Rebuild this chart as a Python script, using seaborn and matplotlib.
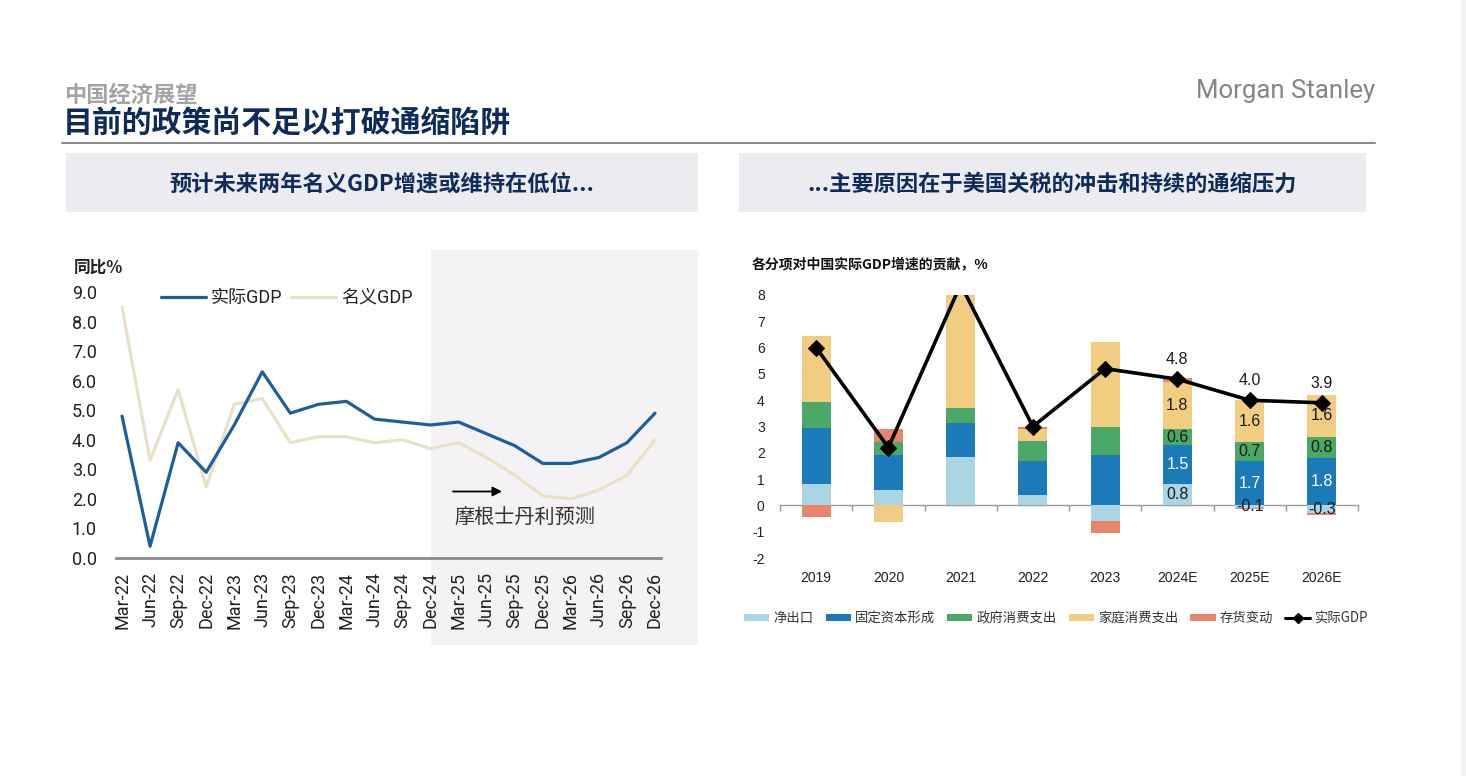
import matplotlib

matplotlib.use("Agg")

import matplotlib.pyplot as plt
import matplotlib.transforms as mtransforms
import numpy as np
import pandas as pd
import seaborn as sns
from matplotlib.lines import Line2D
from matplotlib.patches import Patch, Rectangle

# left panel: quarterly GDP growth, % yoy
quarters = ["Mar-22", "Jun-22", "Sep-22", "Dec-22", "Mar-23", "Jun-23", "Sep-23", "Dec-23",
            "Mar-24", "Jun-24", "Sep-24", "Dec-24", "Mar-25", "Jun-25", "Sep-25", "Dec-25",
            "Mar-26", "Jun-26", "Sep-26", "Dec-26"]
real_gdp_q = [4.8, 0.4, 3.9, 2.9, 4.5, 6.3, 4.9, 5.2, 5.3, 4.7, 4.6, 4.5,
              4.6, 4.2, 3.8, 3.2, 3.2, 3.4, 3.9, 4.9]
nominal_gdp_q = [8.5, 3.3, 5.7, 2.4, 5.2, 5.4, 3.9, 4.1, 4.1, 3.9, 4.0, 3.7,
                 3.9, 3.4, 2.8, 2.1, 2.0, 2.3, 2.8, 4.0]
forecast_start = "Dec-24"

# right panel: contributions to real GDP growth, ppt
years = ["2019", "2020", "2021", "2022", "2023", "2024E", "2025E", "2026E"]
net_exports = [0.8, 0.6, 1.85, 0.4, -0.6, 0.8, -0.1, -0.3]
fixed_capital = [2.15, 1.3, 1.3, 1.3, 1.9, 1.5, 1.7, 1.8]
gov_consumption = [1.0, 0.5, 0.55, 0.75, 1.1, 0.6, 0.7, 0.8]
household_consumption = [2.5, -0.65, 4.7, 0.45, 3.2, 1.8, 1.6, 1.6]
inventory_change = [-0.45, 0.5, 0.0, 0.08, -0.45, 0.15, -0.03, -0.05]
real_gdp_y = [6.0, 2.2, 8.4, 3.0, 5.2, 4.8, 4.0, 3.9]
labelled_years = ["2024E", "2025E", "2026E"]

component_names = ["净出口", "固定资本形成", "政府消费支出", "家庭消费支出", "存货变动"]
component_colors = ["#a9d5e4", "#1b7bb8", "#4ba866", "#f0cd80", "#e8856a"]

NAVY = "#0f2b5b"
CJK = ["Noto Sans CJK SC", "DejaVu Sans"]
ROBOTO_CJK = ["Roboto", "Noto Sans CJK SC", "DejaVu Sans"]
ARIAL_CJK = ["Liberation Sans", "Noto Sans CJK SC", "DejaVu Sans"]

sns.set_theme(style="white")
plt.rcParams["font.family"] = CJK
plt.rcParams["axes.unicode_minus"] = False

W, H = 1466, 776
fig = plt.figure(figsize=(W / 100, H / 100), dpi=100)
fig.patch.set_facecolor("white")


def fx(px):
    return px / W


def fy(py):
    return 1 - py / H


# page header
fig.text(fx(64), fy(95), "中国经济展望", fontsize=16, fontweight="bold", color="#a3a3a3",
         va="center", family=CJK)
fig.text(fx(63), fy(124), "目前的政策尚不足以打破通缩陷阱", fontsize=21.5, fontweight="bold",
         color=NAVY, va="center", family=CJK)
fig.text(fx(1375), fy(91), "Morgan Stanley", fontsize=18.5, color="#858585", ha="right",
         va="center", family=["Roboto", "DejaVu Sans"])
fig.add_artist(Line2D([fx(62), fx(1375)], [fy(143), fy(143)], color="#8c8c8c", lw=1.5))
fig.add_artist(Rectangle((fx(1461), 0), fx(5), 1, color="#f3f3f3", lw=0))

for x0, x1, title in [(66, 698, "预计未来两年名义GDP增速或维持在低位..."),
                      (739, 1366, "...主要原因在于美国关税的冲击和持续的通缩压力")]:
    fig.add_artist(Rectangle((fx(x0), fy(212)), fx(x1 - x0), fy(153) - fy(212),
                             color="#ecebf0", lw=0, zorder=0))
    fig.text(fx((x0 + x1) / 2), fy(184), title, fontsize=16, fontweight="bold", color=NAVY,
             ha="center", va="center", family=CJK)

# ---------------- left panel ----------------
ax1 = fig.add_axes([fx(116.4), fy(558), fx(544.2), fy(292) - fy(558)])
ax1.patch.set_alpha(0)
quarterly = pd.DataFrame({"quarter": quarters, "real": real_gdp_q, "nominal": nominal_gdp_q})
quarterly["pos"] = np.arange(len(quarters))

sns.lineplot(data=quarterly, x="pos", y="real", ax=ax1, color="#1d5e9e", lw=2.3,
             label="实际GDP", zorder=3)
sns.lineplot(data=quarterly, x="pos", y="nominal", ax=ax1, color="#e9e1c5", lw=2.3,
             label="名义GDP", zorder=2)

ax1.set_xlim(-0.2, len(quarters) - 0.8)
ax1.set_ylim(0, 9)
ax1.set_yticks(np.arange(0, 9.5, 1.0))
ax1.set_yticklabels([f"{v:.1f}" for v in np.arange(0, 9.5, 1.0)])
ax1.set_xticks(quarterly["pos"])
ax1.set_xticklabels(quarters, rotation=90)
ax1.tick_params(axis="y", length=0, pad=14, labelsize=13, labelcolor="#222222")
ax1.tick_params(axis="x", length=0, pad=10, labelsize=13, labelcolor="#222222")
for lab in ax1.get_xticklabels() + ax1.get_yticklabels():
    lab.set_family(ROBOTO_CJK)
ax1.set_xlabel("")
ax1.set_ylabel("")
for side in ["top", "right", "left"]:
    ax1.spines[side].set_visible(False)
ax1.spines["bottom"].set_color("#8a8a8a")
ax1.spines["bottom"].set_linewidth(2)
ax1.grid(False)

# forecast shading spans data x and page y
start = quarters.index(forecast_start)
blend = mtransforms.blended_transform_factory(ax1.transData, fig.transFigure)
x_right = (698 - 122) / 28.05
shade = Rectangle((start, fy(645)), x_right - start, fy(250) - fy(645), transform=blend,
                  color="#f5f2f5", lw=0, zorder=0.5, clip_on=False)
ax1.add_patch(shade)

ax1.annotate("", xy=(start + 2.65, 2.25), xytext=(start + 0.7, 2.25),
             arrowprops=dict(arrowstyle="-|>", color="black", lw=1.3, mutation_scale=14))
ax1.text(start + 0.85, 1.38, "摩根士丹利预测", fontsize=14.5, color="#333333", va="center",
         family=CJK, fontweight="light")

leg1 = ax1.legend(loc="center left", bbox_to_anchor=(fx(152), fy(298)),
                  bbox_transform=fig.transFigure, ncol=2, frameon=False, fontsize=13,
                  handlelength=2.5, handletextpad=0.25, columnspacing=0.5, borderpad=0)
for t in leg1.get_texts():
    t.set_family(ROBOTO_CJK)
    t.set_color("#222222")

fig.text(fx(74), fy(268), "同比%", fontsize=12, fontweight="bold", color="#222222",
         va="center", family=CJK)

# ---------------- right panel ----------------
ax2 = fig.add_axes([fx(780), fy(558), fx(578), fy(295) - fy(558)])
ax2.patch.set_alpha(0)
pos = np.arange(len(years))
components = [net_exports, fixed_capital, gov_consumption, household_consumption,
              inventory_change]
pos_base = np.zeros(len(years))
neg_base = np.zeros(len(years))
segments = []
for vals, color in zip(components, component_colors):
    vals = np.array(vals, dtype=float)
    base = np.where(vals >= 0, pos_base, neg_base)
    ax2.bar(pos, vals, bottom=base, width=0.4, color=color, lw=0, zorder=2)
    segments.append(base + vals / 2)
    pos_base = pos_base + np.where(vals >= 0, vals, 0)
    neg_base = neg_base + np.where(vals < 0, vals, 0)

yearly = pd.DataFrame({"pos": pos, "gdp": real_gdp_y})
sns.lineplot(data=yearly, x="pos", y="gdp", ax=ax2, color="black", lw=2.6, marker="D",
             markersize=8.5, markeredgecolor="black", zorder=4)

for yr in labelled_years:
    i = years.index(yr)
    for k in range(4):
        v = components[k][i]
        ax2.text(i, segments[k][i], f"{v:.1f}", ha="center", va="center", fontsize=11.5,
                 color="white" if k == 1 else "#1a1a1a", family=ARIAL_CJK, zorder=5)
    ax2.annotate(f"{real_gdp_y[i]:.1f}", (i, real_gdp_y[i]), xytext=(0, 14),
                 textcoords="offset points", ha="center", va="center", fontsize=11.5,
                 color="#1a1a1a", family=ARIAL_CJK)

ax2.set_xlim(-0.5, len(years) - 0.5)
ax2.set_ylim(-2, 8)
ax2.set_yticks(range(-2, 9))
ax2.set_xticks(pos)
ax2.set_xticklabels(years)
ax2.tick_params(axis="y", length=0, pad=11, labelsize=10, labelcolor="#222222")
ax2.tick_params(axis="x", length=0, pad=9, labelsize=10, labelcolor="#222222")
for lab in ax2.get_xticklabels() + ax2.get_yticklabels():
    lab.set_family(ARIAL_CJK)
ax2.set_xlabel("")
ax2.set_ylabel("")
for side in ["top", "right", "left", "bottom"]:
    ax2.spines[side].set_visible(False)
ax2.grid(False)

zero_axis = ax2.secondary_xaxis(0, transform=ax2.transData)
zero_axis.set_xticks(np.arange(-0.5, len(years), 1.0))
zero_axis.tick_params(axis="x", length=4, width=1, color="#9a9a9a", labelbottom=False,
                      direction="out")
zero_axis.spines["bottom"].set_color("#9a9a9a")
zero_axis.spines["bottom"].set_linewidth(1)

fig.text(fx(752), fy(265), "各分项对中国实际GDP增速的贡献，%", fontsize=10, fontweight="bold",
         color="#111111", va="center", family=CJK)

handles = [Patch(facecolor=c, edgecolor="none") for c in component_colors]
handles.append(Line2D([], [], color="black", lw=2.2, marker="D", markersize=5))
labels = component_names + ["实际GDP"]
leg2 = fig.legend(handles, labels, loc="center", bbox_to_anchor=(fx(1056), fy(618)), ncol=6,
                  frameon=False, fontsize=9.6, handlelength=1.9, handleheight=0.45,
                  handletextpad=0.3, columnspacing=0.9)
for t in leg2.get_texts():
    t.set_color("#333333")
    t.set_family(CJK)

fig.savefig("out.png", dpi=100)
plt.close(fig)
